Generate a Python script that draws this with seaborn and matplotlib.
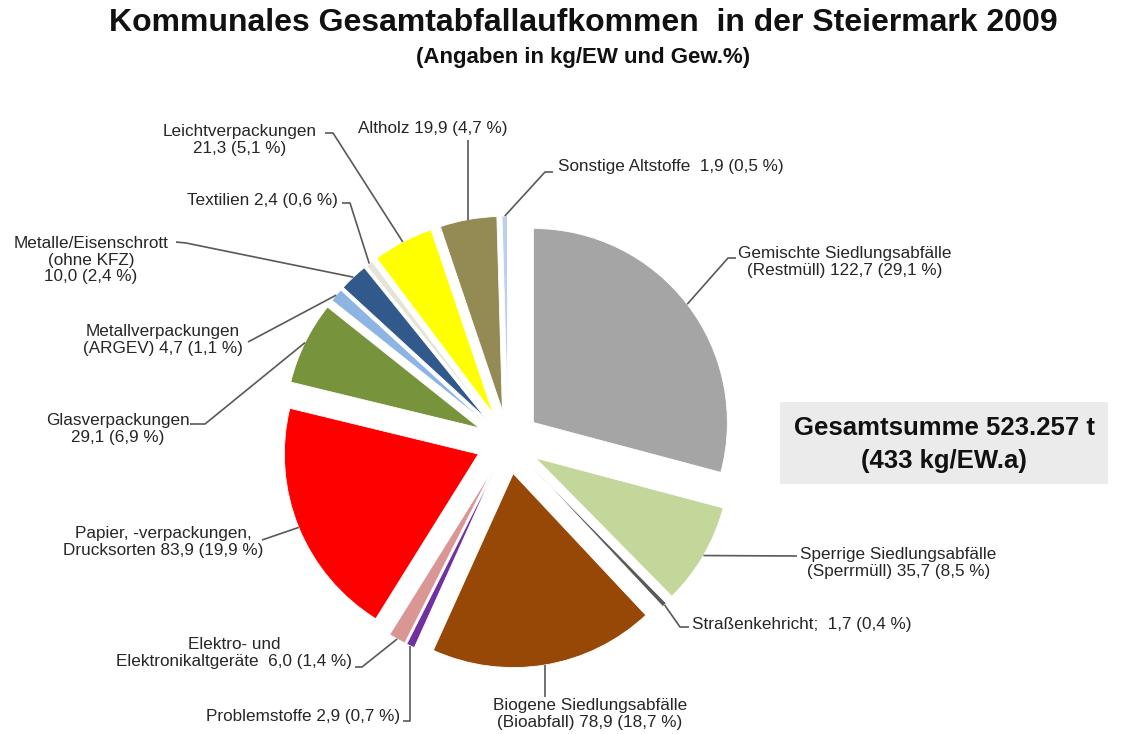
import math
import matplotlib
matplotlib.use("Agg")
import matplotlib.pyplot as plt
from matplotlib.patches import Rectangle
import seaborn as sns

sns.set_theme(style="white")
plt.rcParams["font.family"] = ["Liberation Sans", "DejaVu Sans"]

W, H = 1126, 734

# slices clockwise, starting at 12 o'clock
names = [
    "Gemischte Siedlungsabfälle\n(Restmüll)",
    "Sperrige Siedlungsabfälle\n(Sperrmüll)",
    "Straßenkehricht; ",
    "Biogene Siedlungsabfälle\n(Bioabfall)",
    "Problemstoffe",
    "Elektro- und\nElektronikaltgeräte ",
    "Papier, -verpackungen,\nDrucksorten",
    "Glasverpackungen\n",
    "Metallverpackungen\n(ARGEV)",
    "Metalle/Eisenschrott\n(ohne KFZ)\n",
    "Textilien",
    "Leichtverpackungen\n",
    "Altholz",
    "Sonstige Altstoffe ",
]
kg_values = [122.7, 35.7, 1.7, 78.9, 2.9, 6.0, 83.9, 29.1, 4.7, 10.0, 2.4, 21.3, 19.9, 1.9]
pct_values = [29.1, 8.5, 0.4, 18.7, 0.7, 1.4, 19.9, 6.9, 1.1, 2.4, 0.6, 5.1, 4.7, 0.5]
colors = ["#A5A5A5", "#C4D79B", "#595959", "#974706", "#7030A0", "#DA9694", "#FF0000",
          "#77933C", "#8DB4E2", "#31598C", "#E6E4D6", "#FFFF00", "#948A54", "#B9D1EE"]

total_t = "523.257"
total_kg = 433

# label placement in pixels (top origin): text anchor, alignment, leader points
label_pos = [
    ((845, 262), "center", [(736, 258), (728, 258)]),
    ((800, 563), "left", [(797, 556)]),
    ((692, 625), "left", [(689, 627), (680, 627)]),
    ((590, 714), "center", [(None, 697)]),
    ((400, 716), "right", [(403, 721), (None, 721)]),
    ((234, 653), "center", [(355, 667), (362, 667)]),
    ((163, 542), "center", [(262, 540)]),
    ((118, 429), "center", [(190, 424), (205, 424)]),
    ((163, 340), "center", [(248, 342)]),
    ((91, 260), "center", [(176, 242), (186, 243)]),
    ((338, 200), "right", [(342, 203), (350, 203)]),
    ((240, 140), "center", [(325, 133), (333, 133)]),
    ((433, 128), "center", [(None, 140)]),
    ((558, 166), "left", [(553, 172), (545, 172)]),
]


def de(v):
    return f"{v:.1f}".replace(".", ",")


fig = plt.figure(figsize=(W / 100, H / 100), dpi=100)
ax = fig.add_axes([0, 0, 1, 1])

wedges, _ = ax.pie(kg_values, colors=colors, startangle=90, counterclock=False,
                   explode=[32] * len(kg_values), radius=194, center=(508, H - 442),
                   wedgeprops=dict(linewidth=0.6, edgecolor="white"))
ax.set_xlim(0, W)
ax.set_ylim(0, H)
ax.set_aspect("equal")
ax.axis("off")

line_kw = dict(color="#595959", lw=1.2, solid_capstyle="butt")
for w, name, kg, pct, (xy, ha, path) in zip(wedges, names, kg_values, pct_values, label_pos):
    th = math.radians((w.theta1 + w.theta2) / 2)
    ax0 = w.center[0] + w.r * math.cos(th)
    ay0 = w.center[1] + w.r * math.sin(th)
    sep = "" if name.endswith("\n") else " "
    text = f"{name}{sep}{de(kg)} ({de(pct)} %)"
    ax.text(xy[0], H - xy[1], text, ha=ha, va="center", multialignment="center",
            fontsize=12.3, color="#262626", linespacing=1.1)
    xs = [p[0] if p[0] is not None else ax0 for p in path] + [ax0]
    ys = [H - p[1] for p in path] + [ay0]
    ax.plot(xs, ys, **line_kw)

ax.add_patch(Rectangle((780, H - 484), 328, 82, facecolor="#EBEBEB", edgecolor="none"))
ax.text(944, H - 428, f"Gesamtsumme {total_t} t", ha="center", va="center",
        fontsize=18.5, fontweight="bold", color="#111111")
ax.text(944, H - 461, f"({total_kg} kg/EW.a)", ha="center", va="center",
        fontsize=18.5, fontweight="bold", color="#111111")

ax.text(583, H - 23, "Kommunales Gesamtabfallaufkommen  in der Steiermark 2009",
        ha="center", va="center", fontsize=23, fontweight="bold", color="#111111")
ax.text(583, H - 57, "(Angaben in kg/EW und Gew.%)", ha="center", va="center",
        fontsize=16, fontweight="bold", color="#111111")

fig.savefig("out.png", dpi=100)
